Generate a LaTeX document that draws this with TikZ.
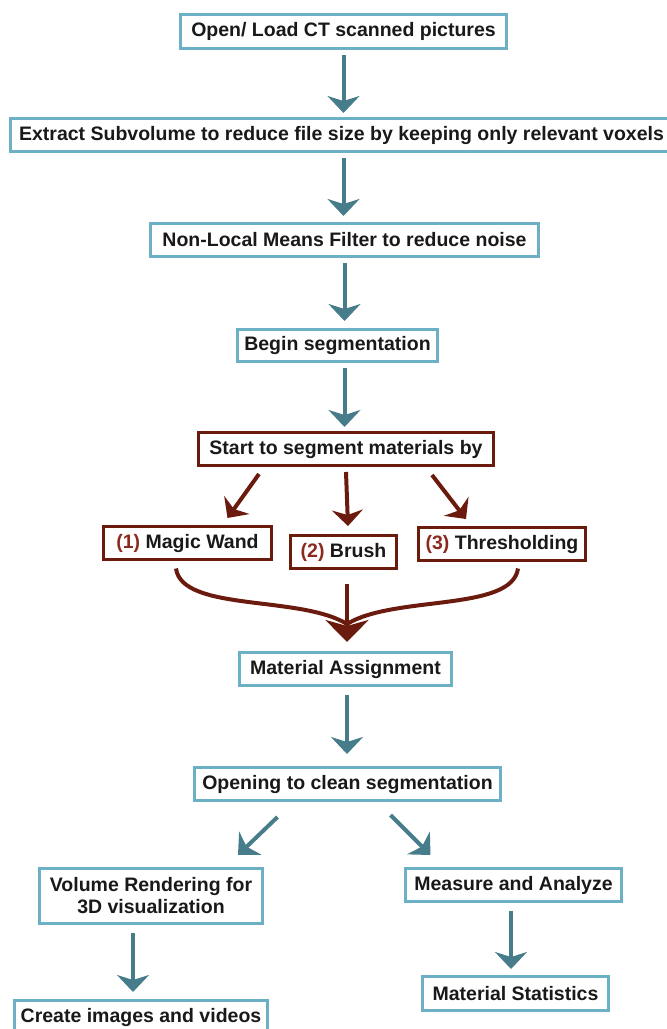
\documentclass[tikz,border=0pt]{standalone}
\usepackage{fontspec}
\setmainfont{Liberation Sans}
\usetikzlibrary{arrows.meta}

\definecolor{boxblue}{HTML}{6CB0C6}
\definecolor{arrblue}{HTML}{477D8B}
\definecolor{boxred}{HTML}{6A1B0E}
\definecolor{numred}{HTML}{8B2A1E}

\tikzset{
  stepbox/.style={draw=boxblue, line width=3pt, fill=white, inner sep=0pt,
    align=center, font=\fontsize{19.5}{22}\selectfont\bfseries, text=black!90},
  redbox/.style={stepbox, draw=boxred},
  arr/.style={draw=arrblue, line width=4pt,
    -{Stealth[length=17pt, width=32pt, inset=5pt]}},
  redarr/.style={draw=boxred, line width=4pt,
    -{Stealth[length=16pt, width=31pt, inset=5pt]}},
  bigarr/.style={draw=boxred, line width=4pt,
    -{Stealth[length=22pt, width=43pt, inset=6pt]}},
}
\newcommand{\num}[1]{\textcolor{numred}{#1}}

\begin{document}
\begin{tikzpicture}[x=1pt, y=-1pt]
\useasboundingbox (0,0) rectangle (667,1029);
\clip (0,0) rectangle (667,1029);

% main chain
\node[stepbox, minimum width=326, minimum height=34] (open) at (343.5,31.5) {Open/ Load CT scanned pictures};
\node[stepbox, minimum width=662, minimum height=33] (extract) at (341.5,135) {Extract Subvolume to reduce file size by keeping only relevant voxels};
\node[stepbox, minimum width=388, minimum height=33] (nlm) at (344.5,240) {Non-Local Means Filter to reduce noise};
\node[stepbox, minimum width=200, minimum height=32] (begin) at (337.5,345.5) {Begin segmentation};
\node[redbox, minimum width=295, minimum height=33] (start) at (346,449) {Start to segment materials by};

% three tools
\node[redbox, minimum width=168, minimum height=33] (wand) at (187.5,543) {\num{(1)} Magic Wand};
\node[redbox, minimum width=106, minimum height=33] (brush) at (343.5,552) {\num{(2)} Brush};
\node[redbox, minimum width=167, minimum height=33] (thresh) at (502,544) {\num{(3)} Thresholding};

\node[stepbox, minimum width=212, minimum height=33] (assign) at (345.5,669) {Material Assignment};
\node[stepbox, minimum width=306, minimum height=33] (opening) at (347.5,784) {Opening to clean segmentation};

% two branches
\node[stepbox, minimum width=223, minimum height=55] (volume) at (151,896) {Volume Rendering for\\3D visualization};
\node[stepbox, minimum width=253, minimum height=33] (create) at (141,1017) {Create images and videos};
\node[stepbox, minimum width=216, minimum height=33] (measure) at (513.5,885) {Measure and Analyze};
\node[stepbox, minimum width=186, minimum height=34] (stats) at (515.5,993.5) {Material Statistics};

% arrows
\draw[arr] ([shift={(0,5)}]open.south) -- ([shift={(0,-4)}]open.south |- extract.north);
\draw[arr] ([shift={(2,5)}]extract.south) -- ([shift={(2,-6)}]extract.south |- nlm.north);
\draw[arr] ([shift={(0,5)}]nlm.south) -- ([shift={(0,-7)}]nlm.south |- begin.north);
\draw[arr] ([shift={(7,5)}]begin.south) -- ([shift={(-1.5,-4)}]start.north);
\draw[redarr] ([shift={(-87,7)}]start.south) -- ([shift={(40,-7)}]wand.north);
\draw[redarr] ([shift={(0,5)}]start.south) -- ([shift={(2,-8)}]start.south |- brush.north);
\draw[redarr] ([shift={(86,8)}]start.south) -- ([shift={(-36,-7)}]thresh.north);

% merge into assignment
\coordinate (merge) at ([shift={(1.5,-27)}]assign.north);
\draw[boxred, line width=4pt] ([shift={(-11.5,7.5)}]wand.south) .. controls (182,612) and (300,595) .. (merge);
\draw[boxred, line width=4pt] ([shift={(16,6.5)}]thresh.south) .. controls (512,612) and (394,595) .. (merge);
\draw[bigarr] ([shift={(3.5,13.5)}]brush.south) -- ([shift={(1.5,-9)}]assign.north);

\draw[arr] ([shift={(1.5,8)}]assign.south) -- ([shift={(1.5,-12)}]assign.south |- opening.north);
\draw[arr] ([shift={(-70,15)}]opening.south) -- ([shift={(87,-12)}]volume.north);
\draw[arr] ([shift={(43,13)}]opening.south) -- ([shift={(-83,-12)}]measure.north);
\draw[arr] ([shift={(-18,8)}]volume.south) -- ([shift={(-18,-7)}]volume.south |- create.north);
\draw[arr] ([shift={(-2.5,8)}]measure.south) -- ([shift={(-4.5,-6)}]stats.north);
\end{tikzpicture}
\end{document}
